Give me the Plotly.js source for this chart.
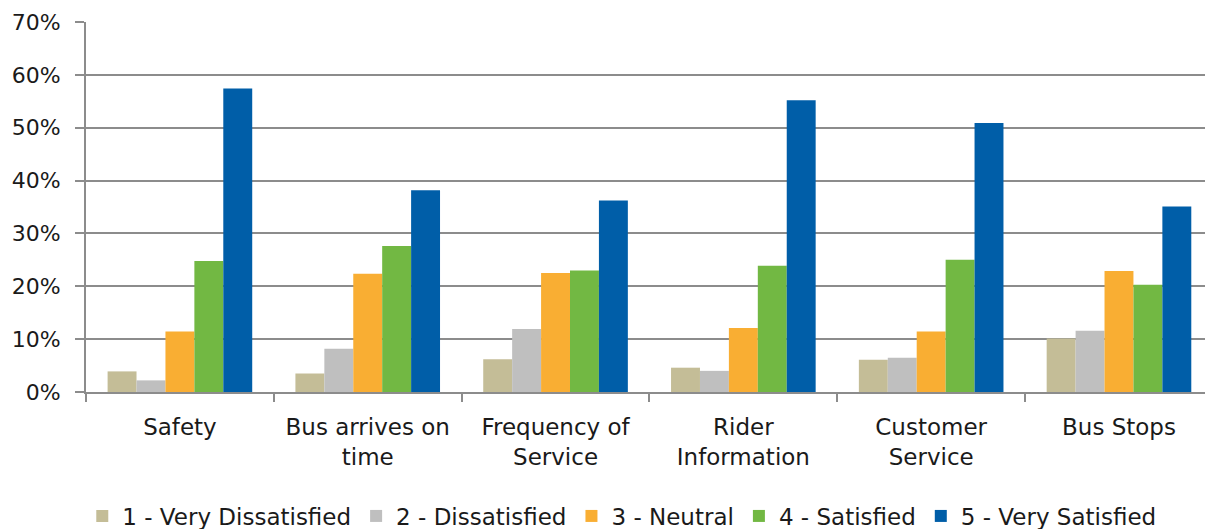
<!DOCTYPE html>
<html>
<head>
<meta charset="utf-8">
<script src="https://cdn.plot.ly/plotly-3.0.1.min.js"></script>
<style>html,body{margin:0;padding:0;background:#fff;}#chart{width:1205px;height:529px;}</style>
</head>
<body>
<div id="chart"></div>
<script>
const categories = ["Safety", "Bus arrives on<br>time", "Frequency of<br>Service", "Rider<br>Information", "Customer<br>Service", "Bus Stops"];
const seriesNames = ["1 - Very Dissatisfied", "2 - Dissatisfied", "3 - Neutral", "4 - Satisfied", "5 - Very Satisfied"];
const veryDissatisfied = [3.9, 3.5, 6.2, 4.6, 6.1, 10.1];
const dissatisfied = [2.2, 8.2, 11.9, 4.0, 6.5, 11.6];
const neutral = [11.45, 22.35, 22.5, 12.1, 11.45, 22.9];
const satisfied = [24.8, 27.6, 23.0, 23.9, 25.0, 20.3];
const verySatisfied = [57.4, 38.15, 36.25, 55.2, 50.9, 35.1];
const colors = ["#C4BD97", "#BFBFBF", "#F9AE33", "#72B843", "#005EA8"];
const yTicks = [0, 10, 20, 30, 40, 50, 60, 70];

const allSeries = [veryDissatisfied, dissatisfied, neutral, satisfied, verySatisfied];
const traces = allSeries.map((vals, i) => ({
  type: "bar",
  name: seriesNames[i],
  x: categories,
  y: vals,
  marker: {color: colors[i], line: {width: 0}},
  hoverinfo: "x+y+name"
}));

const font = "DejaVu Sans, sans-serif";
const layout = {
  width: 1205,
  height: 529,
  margin: {l: 86, r: 0, t: 22, b: 137},
  paper_bgcolor: "#ffffff",
  plot_bgcolor: "#ffffff",
  barmode: "group",
  bargap: 0.23,
  bargroupgap: 0,
  font: {family: font, color: "#1a1a1a", size: 22},
  showlegend: true,
  legend: {
    orientation: "h",
    xref: "container",
    yref: "container",
    x: 0.516,
    xanchor: "center",
    y: 0.0246,
    yanchor: "middle",
    font: {family: font, size: 23, color: "#1a1a1a"},
    itemwidth: 30,
    tracegroupgap: 0
  },
  xaxis: {
    type: "category",
    range: [-0.5, 5.458],
    showline: true,
    linecolor: "#8c8c8c",
    linewidth: 2,
    ticks: "outside",
    tickson: "boundaries",
    ticklen: 8,
    tickwidth: 2,
    tickcolor: "#8c8c8c",
    ticklabelstandoff: 13,
    showgrid: false,
    tickfont: {family: font, size: 23, color: "#1a1a1a"},
    fixedrange: true
  },
  yaxis: {
    range: [0, 70],
    tickvals: yTicks,
    ticktext: yTicks.map(v => v + "%"),
    showline: true,
    linecolor: "#8c8c8c",
    linewidth: 2,
    ticks: "outside",
    ticklen: 9,
    tickwidth: 2,
    tickcolor: "#8c8c8c",
    ticklabelstandoff: 10,
    showgrid: true,
    gridcolor: "#8c8c8c",
    gridwidth: 2,
    zeroline: false,
    tickfont: {family: font, size: 22, color: "#1a1a1a"},
    fixedrange: true
  }
};

Plotly.newPlot("chart", traces, layout, {displayModeBar: false, staticPlot: true});
</script>
</body>
</html>
